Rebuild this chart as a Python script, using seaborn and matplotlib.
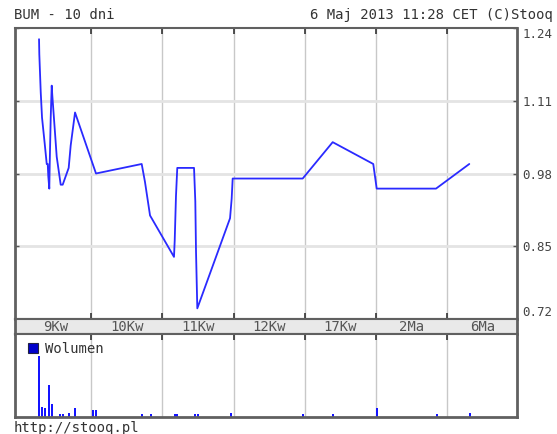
import matplotlib
matplotlib.use("Agg")
import matplotlib.pyplot as plt
import seaborn as sns
import pandas as pd
import numpy as np

# ---- data (x in session-slot units; gridlines at 1..6) ----
price_x = [0.271, 0.275, 0.295, 0.313, 0.351, 0.379, 0.393, 0.401, 0.415, 0.421,
           0.435, 0.449, 0.457, 0.491, 0.519, 0.575, 0.603, 0.687, 0.715, 0.776,
           1.070, 1.711, 1.757, 1.828, 2.164, 2.174, 2.192, 2.210, 2.445, 2.463,
           2.473, 2.491, 2.950, 2.973, 2.987, 3.969, 4.390, 4.959, 5.007, 5.839,
           6.306]
price_y = [1.220, 1.193, 1.125, 1.080, 1.033, 0.997, 0.997, 0.975, 0.953, 0.997,
           1.080, 1.137, 1.120, 1.060, 1.010, 0.960, 0.960, 0.990, 1.030, 1.089,
           0.980, 0.997, 0.965, 0.905, 0.831, 0.860, 0.940, 0.990, 0.990, 0.930,
           0.840, 0.739, 0.900, 0.935, 0.971, 0.971, 1.036, 0.997, 0.953, 0.953,
           0.997]

vol_x = [0.276, 0.308, 0.348, 0.408, 0.453, 0.572, 0.611, 0.697, 0.771, 1.028,
         1.070, 1.715, 1.842, 2.178, 2.206, 2.459, 2.494, 2.958, 3.973, 4.394,
         5.011, 5.853, 6.316]
vol_y = [100, 16, 14, 53, 21, 5.5, 5.5, 6.6, 15, 11,
         11, 5.5, 5.5, 5.5, 5.5, 5.5, 5.5, 6.6, 5.5, 5.5,
         15, 5.5, 7]

x_labels = ["9Kw", "10Kw", "11Kw", "12Kw", "17Kw", "2Ma", "6Ma"]
y_ticks = [0.72, 0.85, 0.98, 1.11, 1.24]
y_ticklabels = ["0.72", "0.85", "0.98", "1.11", "1.24"]

title_left = "BUM - 10 dni"
title_right = "6 Maj 2013 11:28 CET (C)Stooq"
footer = "http://stooq.pl"

sns.set_theme(style="white")
plt.rcParams["font.family"] = ["DejaVu Sans Mono", "DejaVu Sans"]

W, H = 557, 434
fig = plt.figure(figsize=(W / 100, H / 100), dpi=100)
fig.patch.set_facecolor("white")


def rect(l, t, r, b):
    return [l / W, 1 - b / H, (r - l) / W, (b - t) / H]


ax_p = fig.add_axes(rect(15, 28, 517, 319))
ax_b = fig.add_axes(rect(15, 319, 517, 334))
ax_v = fig.add_axes(rect(15, 334, 517, 417))

XLIM = (-0.066, 6.975)
grid_x = [1, 2, 3, 4, 5, 6]
FS = 10
spine_c = "#606060"

# ---- price panel ----
df = pd.DataFrame({"x": price_x, "y": price_y})
for gx in grid_x:
    ax_p.axvline(gx, color="#c8c8c8", lw=1.0, zorder=0)
for gy in y_ticks[1:-1]:
    ax_p.axhline(gy, color="#e4e4e4", lw=2.0, zorder=0)
sns.lineplot(data=df, x="x", y="y", ax=ax_p, sort=False, estimator=None,
             color="#2a2aff", lw=1.3)
ax_p.set_xlim(*XLIM)
ax_p.set_ylim(0.72, 1.24)
ax_p.set_xlabel("")
ax_p.set_ylabel("")
ax_p.set_xticks(grid_x)
ax_p.set_xticklabels([])
ax_p.tick_params(axis="x", direction="in", top=True, bottom=True, length=4,
                 width=1.2, color="#333333")
ax_p.set_yticks(y_ticks)
ax_p.set_yticklabels(y_ticklabels)
ax_p.tick_params(axis="y", direction="in", left=True, right=True, length=3,
                 width=1.0, color="#555555", labelleft=False, labelright=True,
                 labelsize=9, labelcolor="#444444", pad=4)
labs = ax_p.get_yticklabels()
labs[0].set_va("bottom")
labs[-1].set_va("top")
for s in ax_p.spines.values():
    s.set_color(spine_c)
    s.set_linewidth(1.5)
ax_p.spines["right"].set_linewidth(2.0)
ax_p.spines["left"].set_linewidth(2.0)

# ---- label band ----
ax_b.set_facecolor("#e9e9e9")
ax_b.set_xlim(*XLIM)
ax_b.set_ylim(0, 1)
ax_b.set_yticks([])
ax_b.set_xticks([i + 0.5 for i in range(len(x_labels))])
ax_b.set_xticklabels([])
ax_b.tick_params(axis="x", length=0)
for i, lab in enumerate(x_labels):
    ax_b.text(i + 0.5, 0.45, lab, ha="center", va="center", fontsize=FS,
              color="#555555")
for s in ax_b.spines.values():
    s.set_color(spine_c)
    s.set_linewidth(1.5)
ax_b.spines["right"].set_linewidth(2.0)
ax_b.spines["left"].set_linewidth(2.0)

# ---- volume panel ----
for gx in grid_x:
    ax_v.axvline(gx, color="#c8c8c8", lw=1.0, zorder=0)
ax_v.bar(vol_x, vol_y, width=0.028, color="#1414ff", edgecolor="none",
         linewidth=0, label="Wolumen", zorder=2)
ax_v.set_xlim(*XLIM)
ax_v.set_ylim(0, 136)
ax_v.set_yticks([])
ax_v.set_xticks(grid_x)
ax_v.set_xticklabels([])
ax_v.tick_params(axis="x", direction="in", top=True, bottom=False, length=4,
                 width=1.2, color="#333333")
for s in ax_v.spines.values():
    s.set_color(spine_c)
    s.set_linewidth(2.0)
ax_v.spines["top"].set_linewidth(1.5)
leg = ax_v.legend(loc="upper left", frameon=False, fontsize=FS,
                  handlelength=0.7, handleheight=0.7, handletextpad=0.5,
                  borderaxespad=0.0, bbox_to_anchor=(0.015, 0.97))
for h in leg.legend_handles:
    h.set_edgecolor("#222244")
    h.set_linewidth(0.8)
    h.set_facecolor("#0000cc")
for t in leg.get_texts():
    t.set_color("#333333")

# ---- texts ----
fig.text(14 / W, 1 - 15 / H, title_left, ha="left", va="center", fontsize=FS,
         color="#333333")
fig.text(553 / W, 1 - 15 / H, title_right, ha="right", va="center",
         fontsize=FS, color="#333333")
fig.text(14 / W, 1 - 428 / H, footer, ha="left", va="center", fontsize=FS,
         color="#333333")

fig.savefig("out.png", dpi=100, facecolor="white")
